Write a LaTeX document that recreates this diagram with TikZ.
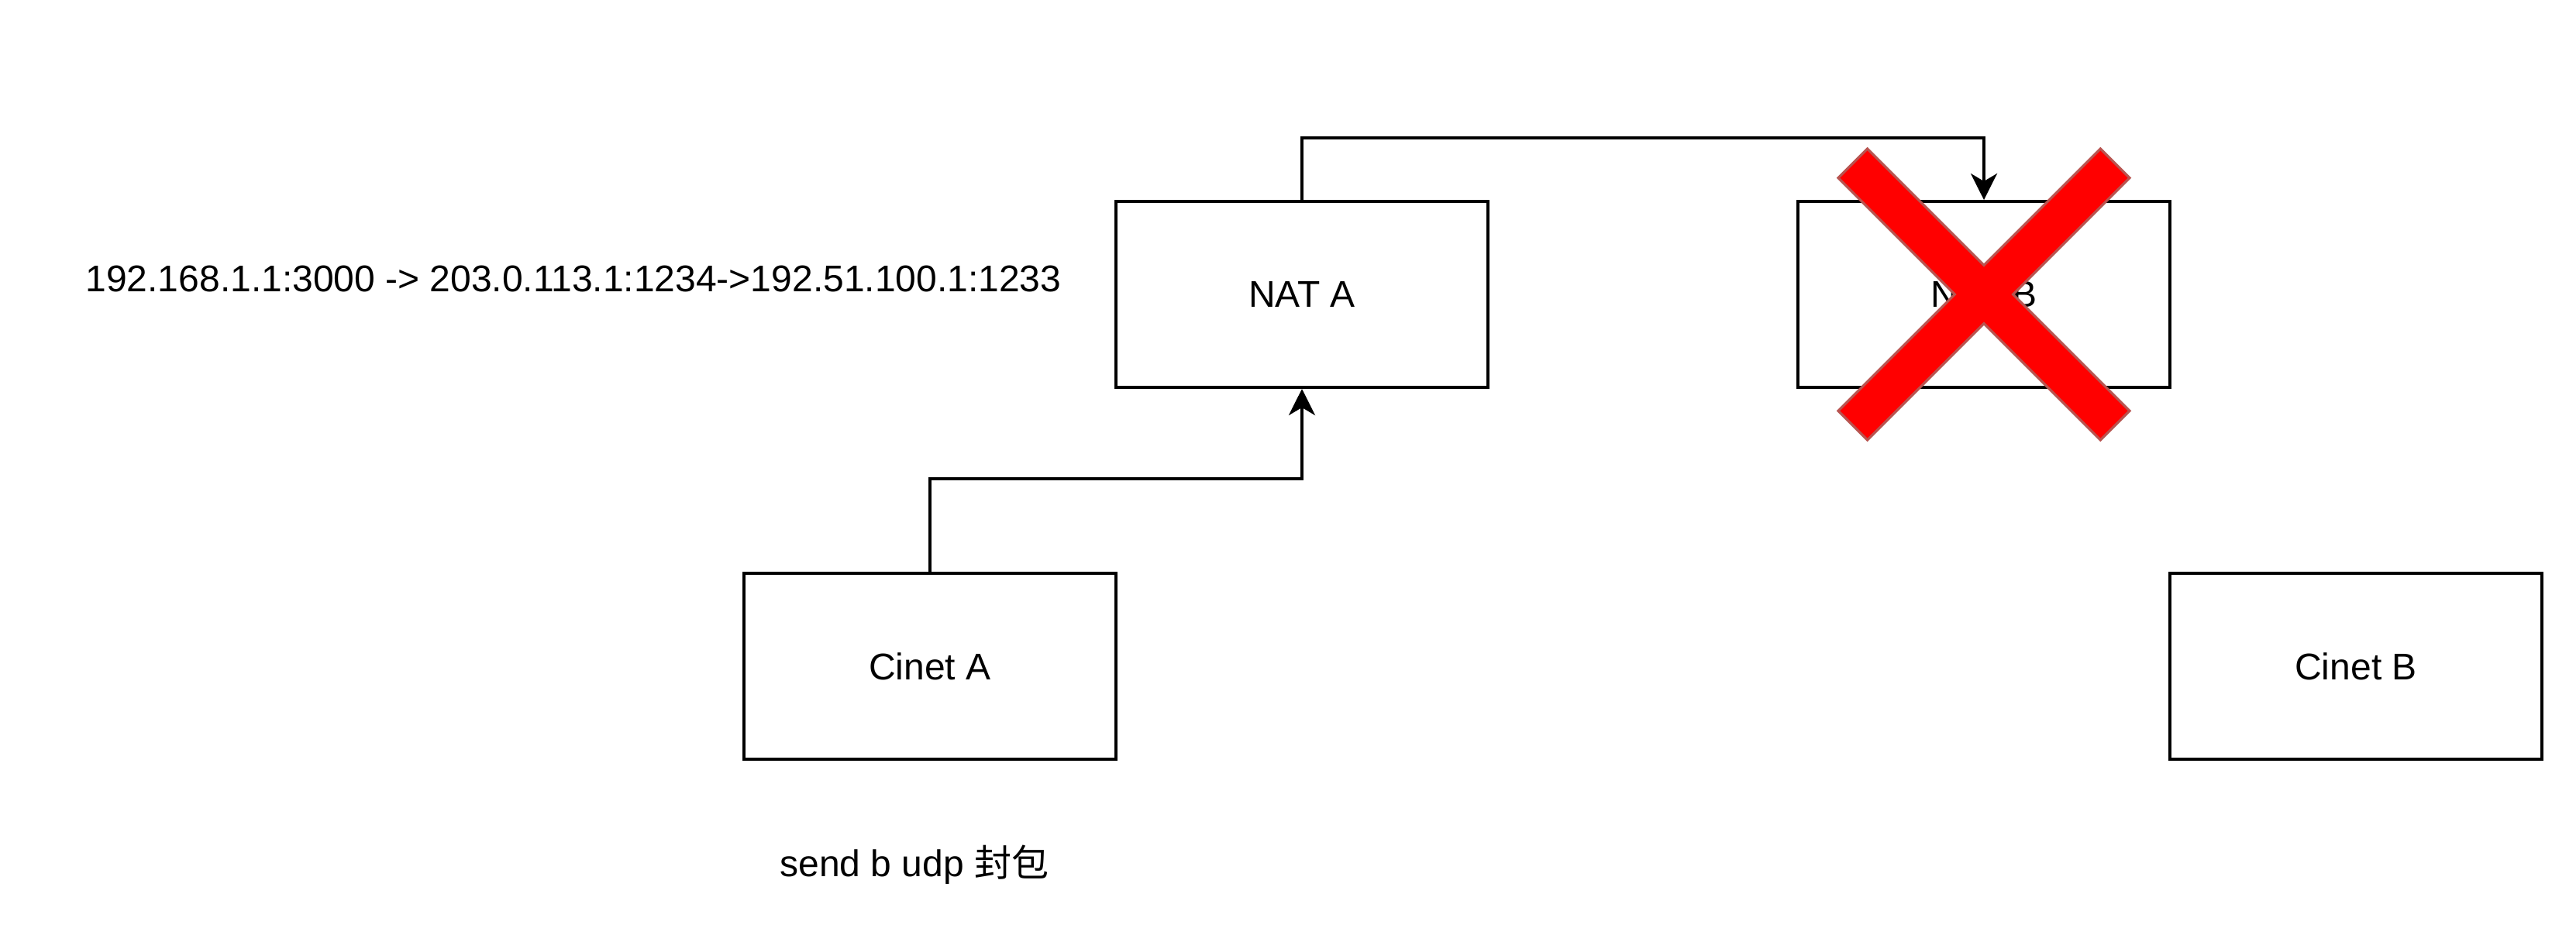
\documentclass[tikz,border=0pt]{standalone}
\usepackage{fontspec}
\setmainfont{Liberation Sans}
\newfontfamily\cjk{Noto Sans CJK SC}
\usetikzlibrary{arrows.meta}
\definecolor{xred}{HTML}{FF0000}
\definecolor{xstroke}{HTML}{B85450}
\begin{document}
\begin{tikzpicture}[x=1pt,y=-1pt,
  box/.style={draw=black,line width=1pt,minimum width=120pt,minimum height=60pt,inner sep=0pt,font=\fontsize{12pt}{14pt}\selectfont},
  lbl/.style={inner sep=0pt,font=\fontsize{12pt}{14pt}\selectfont},
  arr/.style={draw=black,line width=1pt,-{Stealth[length=8.5pt,width=8.5pt,inset=2.5pt]}}]
\useasboundingbox (0,0) rectangle (831,306);
\fill[white] (0,0) rectangle (831,306);
\node[box] (na) at (420,95) {NAT A};
\node[box] (nb) at (640,95) {NAT B};
\node[box] (ca) at (300,215) {Cinet A};
\node[box] (cb) at (760,215) {Cinet B};
\node[lbl] (t1) at (185,90) {192.168.1.1:3000 -> 203.0.113.1:1234->192.51.100.1:1233};
\node[lbl] (t2) at (295,279) {send b udp {\cjk 封包}};
\draw[arr] (ca.north) -- ++(0,-30) -| (na.south);
\draw[arr] (na.north) -- ++(0,-20) -| (nb.north);
% red X
\def\xa{9.4}
\coordinate (xc) at (640,95);
\filldraw[fill=xred,draw=xstroke,line width=0.8pt,line join=miter]
  (593,48+\xa) -- (593+\xa,48) -- (640,95-\xa) -- (687-\xa,48) -- (687,48+\xa)
  -- (640+\xa,95) -- (687,142-\xa) -- (687-\xa,142) -- (640,95+\xa)
  -- (593+\xa,142) -- (593,142-\xa) -- (640-\xa,95) -- cycle;
\end{tikzpicture}
\end{document}
